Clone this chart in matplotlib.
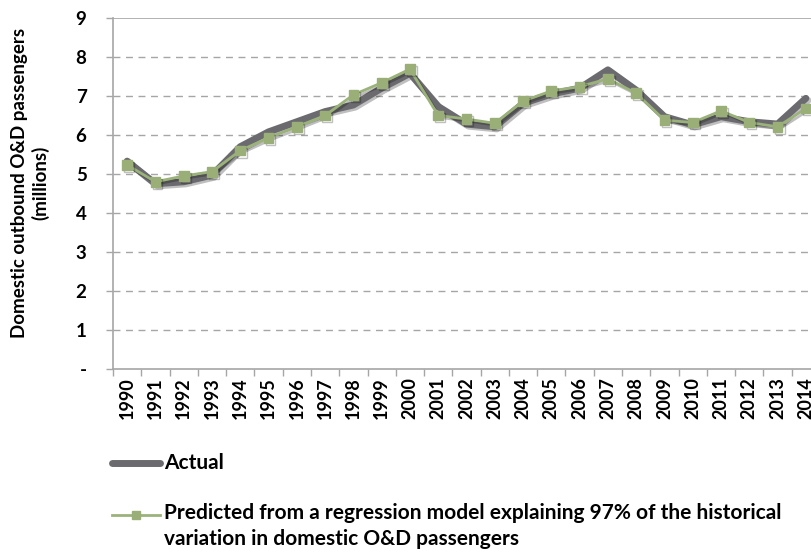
import matplotlib
matplotlib.use("Agg")
import matplotlib.pyplot as plt
import matplotlib.patheffects as pe
from matplotlib.lines import Line2D

years = [str(y) for y in range(1990, 2015)]
actual = [5.33, 4.75, 4.80, 4.97, 5.70, 6.08, 6.34, 6.60, 6.77, 7.20, 7.58,
          6.73, 6.28, 6.21, 6.81, 7.05, 7.20, 7.67, 7.15, 6.47, 6.26, 6.47,
          6.34, 6.28, 6.94]
predicted = [5.23, 4.80, 4.95, 5.06, 5.60, 5.93, 6.21, 6.50, 7.03, 7.34, 7.69,
             6.50, 6.41, 6.30, 6.87, 7.13, 7.24, 7.44, 7.07, 6.38, 6.32, 6.62,
             6.32, 6.21, 6.68]
yticks = [0, 1, 2, 3, 4, 5, 6, 7, 8, 9]
ytick_labels = ["-", "1", "2", "3", "4", "5", "6", "7", "8", "9"]

plt.rcParams['font.family'] = ['Lato', 'DejaVu Sans']
plt.rcParams['font.weight'] = 'bold'

dark = '#6b6b6f'
green = '#9bb37a'
grid_c = '#a6a6a6'

fig = plt.figure(figsize=(8.12, 5.53), dpi=100)
ax = fig.add_axes([113 / 812, 1 - 369 / 553, 707 / 812, 351 / 553])

shadow = [pe.SimpleLineShadow(offset=(1.5, -1.5), alpha=0.25), pe.Normal()]
x = list(range(len(years)))
ax.plot(x, actual, color=dark, lw=5, solid_capstyle='round', zorder=3,
        path_effects=shadow)
ax.plot(x, predicted, color=green, lw=2, marker='s', ms=7, mfc='#9aae78',
        mec='#9aae78', zorder=4, path_effects=shadow)

ax.set_xlim(-0.5, len(years) - 0.5)
ax.set_ylim(0, 9)
ax.set_yticks(yticks)
ax.set_yticklabels(ytick_labels, fontsize=13.5, fontweight='bold')
ax.set_xticks(x)
ax.set_xticklabels(years, rotation=90, fontsize=13, fontweight='bold')
ax.set_xticks([i - 0.5 for i in range(len(years) + 1)], minor=True)
ax.tick_params(axis='x', which='major', length=0, pad=6)
ax.tick_params(axis='x', which='minor', length=5, color=grid_c, width=1)
ax.tick_params(axis='y', length=5, color=grid_c, width=1, pad=14)

for v in yticks[1:-1]:
    ax.axhline(v, color=grid_c, lw=1, ls=(0, (5, 4)), zorder=1)
ax.axhline(9, color=grid_c, lw=1.2, zorder=1)

for s in ['top', 'right']:
    ax.spines[s].set_visible(False)
for s in ['left', 'bottom']:
    ax.spines[s].set_color(grid_c)
    ax.spines[s].set_linewidth(1.2)

fig.text(0.037, 1 - 183 / 553, "Domestic outbound O&D passengers\n(millions)",
         rotation=90, ha='center', va='center', fontsize=13.5, fontweight='bold',
         linespacing=1.25)

# legend
fig.add_artist(Line2D([112 / 812, 160 / 812], [1 - 463 / 553] * 2, color=dark,
                      lw=5, solid_capstyle='round'))
fig.text(164 / 812, 1 - 463 / 553, "Actual", ha='left', va='center',
         fontsize=15, fontweight='bold')
fig.add_artist(Line2D([112 / 812, 160 / 812], [1 - 515 / 553] * 2, color=green,
                      lw=2))
fig.add_artist(Line2D([136 / 812], [1 - 515 / 553], color=green, marker='s',
                      ms=6, mfc='#9aae78', mec='#9aae78'))
fig.text(164 / 812, 1 - 503 / 553,
         "Predicted from a regression model explaining 97% of the historical\n"
         "variation in domestic O&D passengers",
         ha='left', va='top', fontsize=15, fontweight='bold', linespacing=1.35,
         transform=fig.transFigure)

fig.savefig("out.png", dpi=100)
